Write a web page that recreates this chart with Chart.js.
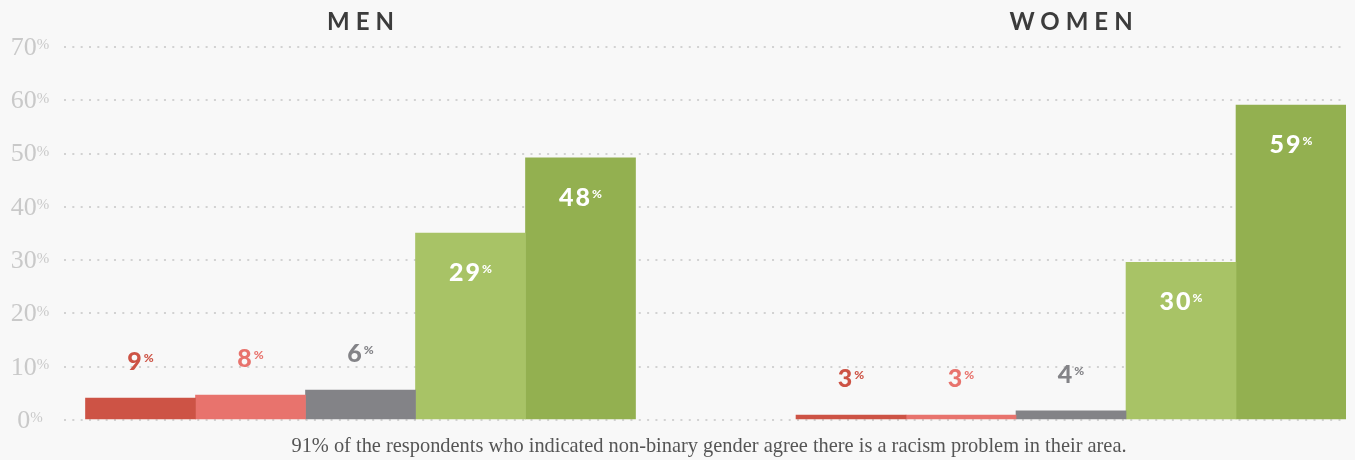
<!DOCTYPE html>
<html lang="en">
<head>
    <meta charset="UTF-8">
    <title>Racism problem by gender</title>
    <script src="https://cdn.jsdelivr.net/npm/chart.js"></script>
    <style>
        html, body { margin: 0; padding: 0; background: #f8f8f8; }
        #wrap { width: 1355px; height: 460px; }
    </style>
</head>
<body>
    <div id="wrap"><canvas id="chart" width="1355" height="460"></canvas></div>

    <script>
        // groups and the five answer bars in each group
        const groups = ['MEN', 'WOMEN'];
        const barColors = ['#cd5345', '#e8736d', '#838387', '#a8c366', '#93b050'];

        // bar heights as drawn in the picture (percent axis)
        const menHeights = [4.1, 4.7, 5.6, 35.1, 49.2];
        const womenHeights = [0.9, 0.9, 1.7, 29.6, 59.1];

        // the numbers printed on the bars
        const menLabels = ['9', '8', '6', '29', '48'];
        const womenLabels = ['3', '3', '4', '30', '59'];

        const yTicks = [0, 10, 20, 30, 40, 50, 60, 70];
        const caption = '91% of the respondents who indicated non-binary gender agree there is a racism problem in their area.';

        const heights = [menHeights, womenHeights];
        const labels = [menLabels, womenLabels];

        const datasets = barColors.map((color, i) => ({
            label: 'bar ' + (i + 1),
            data: groups.map((g, gi) => ({ x: gi, y: heights[gi][i] })),
            backgroundColor: color,
            borderWidth: 0,
            barThickness: 110
        }));

        const labelPlugin = {
            id: 'barLabels',
            afterDatasetsDraw(chart) {
                const ctx = chart.ctx;
                ctx.save();
                chart.data.datasets.forEach((ds, i) => {
                    const meta = chart.getDatasetMeta(i);
                    meta.data.forEach((bar, gi) => {
                        const inside = heights[gi][i] > 20;
                        const y = inside ? bar.y + 40 : bar.y - 36;
                        const num = labels[gi][i];
                        ctx.letterSpacing = '2px';
                        ctx.font = '900 25px Lato';
                        const w1 = ctx.measureText(num).width;
                        ctx.letterSpacing = '0px';
                        ctx.font = '900 12px Lato';
                        const w2 = ctx.measureText('%').width;
                        const x0 = bar.x - (w1 + w2) / 2;
                        ctx.fillStyle = inside ? '#ffffff' : ds.backgroundColor;
                        ctx.textAlign = 'left';
                        ctx.textBaseline = 'middle';
                        ctx.letterSpacing = '2px';
                        ctx.font = '900 25px Lato';
                        ctx.fillText(num, x0, y);
                        ctx.letterSpacing = '0px';
                        ctx.font = '900 12px Lato';
                        ctx.textBaseline = 'top';
                        ctx.fillText('%', x0 + w1, y - 10);
                    });
                });
                ctx.restore();
            },
            afterDraw(chart) {
                const ctx = chart.ctx;
                const yScale = chart.scales.y;
                const xScale = chart.scales.x;
                ctx.save();

                // y axis labels with small raised percent sign
                ctx.fillStyle = '#c9c9c9';
                yScale.ticks.forEach(t => {
                    const y = yScale.getPixelForValue(t.value);
                    const num = String(t.value);
                    ctx.font = '26px "Liberation Serif"';
                    const w1 = ctx.measureText(num).width;
                    ctx.font = '15px "Liberation Serif"';
                    const w2 = ctx.measureText('%').width;
                    const x0 = 30 - (w1 + w2) / 2;
                    ctx.textAlign = 'left';
                    ctx.textBaseline = 'middle';
                    ctx.font = '26px "Liberation Serif"';
                    ctx.fillText(num, x0, y + 1);
                    ctx.textBaseline = 'top';
                    ctx.font = '15px "Liberation Serif"';
                    ctx.fillText('%', x0 + w1, y - 9);
                });

                // group titles
                ctx.fillStyle = '#3c3c3c';
                ctx.font = 'bold 24px Lato';
                ctx.letterSpacing = '6px';
                ctx.textAlign = 'center';
                ctx.textBaseline = 'middle';
                groups.forEach((g, gi) => {
                    ctx.fillText(g, xScale.getPixelForValue(gi) + 3, 22);
                });

                // caption under the chart
                ctx.letterSpacing = '0px';
                ctx.fillStyle = '#555555';
                ctx.font = '20.4px "Liberation Serif"';
                ctx.fillText(caption, 709, 447);
                ctx.restore();
            }
        };

        new Chart(document.getElementById('chart'), {
            type: 'bar',
            data: { datasets },
            options: {
                responsive: false,
                animation: false,
                layout: { padding: { left: 64, right: 9, top: 47, bottom: 40 } },
                plugins: { legend: { display: false }, tooltip: { enabled: false } },
                scales: {
                    x: {
                        type: 'linear',
                        display: false,
                        offset: false,
                        bounds: 'data',
                        min: -0.4173,
                        max: 1.387,
                        grid: { offset: false }
                    },
                    y: {
                        min: 0,
                        max: 70,
                        afterBuildTicks: axis => { axis.ticks = yTicks.map(v => ({ value: v })); },
                        ticks: { display: false },
                        grid: { color: '#d2d2d2', lineWidth: 2, drawTicks: false },
                        border: { display: false, dash: [2, 6.33] }
                    }
                }
            },
            plugins: [labelPlugin]
        });
    </script>
</body>
</html>
